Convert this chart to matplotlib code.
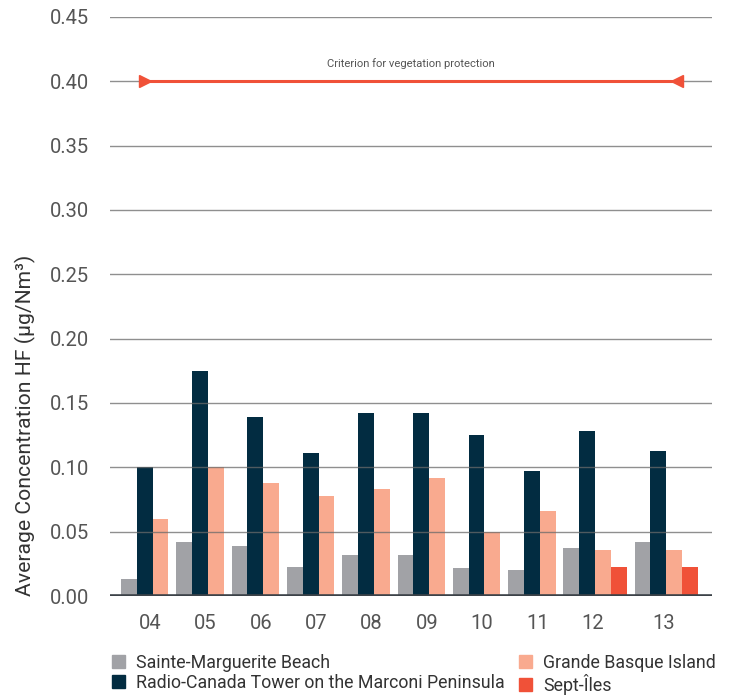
import numpy as np
import matplotlib.pyplot as plt
from matplotlib.patches import Patch

plt.rcParams['font.family'] = ['Roboto', 'DejaVu Sans']

years = ['04', '05', '06', '07', '08', '09', '10', '11', '12', '13']
sainte = [0.013, 0.042, 0.039, 0.0225, 0.032, 0.032, 0.0215, 0.020, 0.037, 0.042]
radio = [0.100, 0.175, 0.139, 0.111, 0.1425, 0.1425, 0.125, 0.0975, 0.128, 0.113]
grande = [0.060, 0.100, 0.0875, 0.0775, 0.0835, 0.092, 0.050, 0.066, 0.0355, 0.0355]
sept = [np.nan] * 8 + [0.0225, 0.0225]
criterion = 0.40

names = ['Sainte-Marguerite Beach', 'Radio-Canada Tower on the Marconi Peninsula',
         'Grande Basque Island', 'Sept-Îles']
colors = ['#a1a2a6', '#022c41', '#f9aa8f', '#f05138']
series = [sainte, radio, grande, sept]

fig = plt.figure(figsize=(7.29, 6.96), dpi=100)
ax = fig.add_axes([110 / 729, 1 - 596 / 696, 602 / 729, 579 / 696])

# bars of each year are packed side by side, groups separated by a half-bar gap
gap = 0.5
start = 0.0
ticks = []
for i in range(len(years)):
    k = 0
    for s, c in zip(series, colors):
        v = s[i]
        if np.isnan(v):
            continue
        ax.bar(start + k + 0.5, v, width=1.0, color=c, zorder=2, linewidth=0)
        k += 1
    ticks.append(start + 1.85)
    start += k + gap

ax.set_xlim(-0.7, start - gap + 0.9)
ax.set_ylim(0, 0.45)
yt = np.arange(0, 0.451, 0.05)
ax.set_yticks(yt)
ax.set_yticklabels(['%.2f' % v for v in yt])
ax.set_xticks(ticks)
ax.set_xticklabels(years)
for y in yt[1:]:
    ax.axhline(y, color='#6a6a6a', lw=1.0, alpha=0.75, zorder=3)
ax.axhline(0, color='#3c4248', lw=2.6, zorder=4)

for sp in ax.spines.values():
    sp.set_visible(False)
ax.tick_params(axis='both', length=0, labelsize=14.5, colors='#555555')
ax.tick_params(axis='y', pad=15)
ax.tick_params(axis='x', pad=13)

# criterion line
x0, x1 = 1.49, 35.2
ax.plot([x0, x1], [criterion, criterion], color='#f05138', lw=2.2, zorder=5)
ax.plot([x0], [criterion], marker='>', color='#f05138', ms=8, zorder=6)
ax.plot([x1], [criterion], marker='<', color='#f05138', ms=8, zorder=6)
ax.text((x0 + x1) / 2, 0.414, 'Criterion for vegetation protection',
        ha='center', va='center', fontsize=8.1, color='#555555')

fig.text(25 / 729, 1 - 596 / 696, 'Average Concentration HF (µg/Nm³)',
         rotation=90, ha='center', va='bottom', fontsize=15.2, color='#333333')

handles = [Patch(color=c, label=n) for n, c in zip(names, colors)]
fig.legend(handles=handles, loc='upper left', bbox_to_anchor=(112 / 729, 1 - 654 / 696),
           ncol=2, frameon=False, fontsize=12.8, handlelength=0.75, handleheight=0.75,
           handletextpad=0.6, columnspacing=0.8, labelspacing=0.12, borderpad=0,
           borderaxespad=0, labelcolor='#333333')

plt.savefig('out.png', dpi=100)
